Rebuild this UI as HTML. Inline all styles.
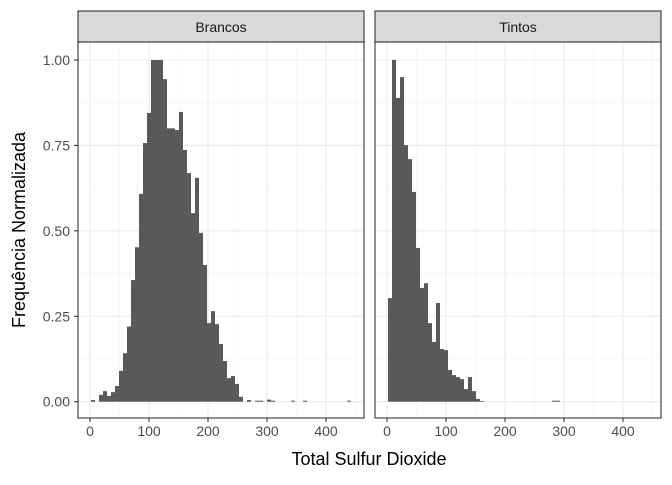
<!DOCTYPE html>
<html><head><meta charset="utf-8"><style>
body{margin:0;background:#fff}
svg text{font-family:"Liberation Sans",sans-serif}
</style></head><body>
<svg id="c" width="672" height="480" xmlns="http://www.w3.org/2000/svg"></svg>
<script>
const panels = ["Brancos","Tintos"];
const binStart = 1.7;
const binWidth = 6.78;
const brancosValues = [0.005,0,0.02,0.031,0.017,0.028,0.046,0.09,0.142,0.22,0.356,0.452,0.608,0.757,0.845,1,1,1,0.944,0.80,0.80,0.795,0.848,0.737,0.669,0.552,0.655,0.494,0.40,0.23,0.265,0.227,0.169,0.119,0.069,0.075,0.052,0.014,0,0.005,0,0.003,0.003,0,0.006,0.003,0,0,0,0,0.003,0,0,0.003,0,0,0,0,0,0,0,0,0,0,0.003];
const tintosValues = [0.303,1.0,0.889,0.95,0.751,0.71,0.614,0.45,0.333,0.347,0.23,0.175,0.289,0.154,0.151,0.093,0.078,0.072,0.066,0.037,0.072,0.031,0.008,0.002,0,0,0,0,0,0,0,0,0,0,0,0,0,0,0,0,0,0.003,0.003];
const yTicks = [0,0.25,0.5,0.75,1.0];
const yTickLabels = ["0.00","0.25","0.50","0.75","1.00"];
const xTicks = [0,100,200,300,400];
const xTickLabels = ["0","100","200","300","400"];

const NS="http://www.w3.org/2000/svg";
const svg=document.getElementById('c');
function mk(t,a,p){const e=document.createElementNS(NS,t);for(const k in a)e.setAttribute(k,a[k]);(p||svg).appendChild(e);return e;}
const plotTop=42,plotBottom=418,panelW=286;
const panelX=[78,375];
function yS(v){return 401.7-v*341.7;}
function xS(p,v){return panelX[p]+12+v*0.59;}
const series=[brancosValues,tintosValues];
panels.forEach((name,p)=>{
  const g=mk('g',{});
  
  
  const x0=panelX[p];
  mk('rect',{x:x0,y:plotTop,width:panelW,height:plotBottom-plotTop,fill:'#fff'},g);
  for(let i=0;i<yTicks.length-1;i++){const y=yS((yTicks[i]+yTicks[i+1])/2);mk('line',{x1:x0,x2:x0+panelW,y1:y,y2:y,stroke:'#f2f2f2','stroke-width':0.55},g);}
  for(let i=0;i<xTicks.length;i++){const x=xS(p,xTicks[i]+50);if(x<x0+panelW)mk('line',{x1:x,x2:x,y1:plotTop,y2:plotBottom,stroke:'#f2f2f2','stroke-width':0.55},g);}
  yTicks.forEach(v=>{const y=yS(v);mk('line',{x1:x0,x2:x0+panelW,y1:y,y2:y,stroke:'#ebebeb','stroke-width':1.1},g);});
  xTicks.forEach(v=>{const x=xS(p,v);mk('line',{x1:x,x2:x,y1:plotTop,y2:plotBottom,stroke:'#ebebeb','stroke-width':1.1},g);});
  series[p].forEach((v,i)=>{
    if(v<=0)return;
    const xa=xS(p,binStart+i*binWidth), xb=xS(p,binStart+(i+1)*binWidth);
    const r=mk('rect',{x:xa,y:yS(v),width:xb-xa,height:yS(0)-yS(v),fill:'#595959'},g);
    
    
  });
  mk('rect',{x:x0,y:plotTop,width:panelW,height:plotBottom-plotTop,fill:'none',stroke:'#333','stroke-width':1.1},g);
  const s=mk('rect',{x:x0,y:11,width:panelW,height:31,fill:'#d9d9d9',stroke:'#333','stroke-width':1.1},g);
  
  
  const st=mk('text',{x:x0+panelW/2,y:32,'text-anchor':'middle','font-size':14,fill:'#1a1a1a'},g);
  st.textContent=name;
  
  
  xTicks.forEach((v,i)=>{const x=xS(p,v);
    mk('line',{x1:x,x2:x,y1:plotBottom,y2:plotBottom+4,stroke:'#333','stroke-width':1.1},g);
    const t=mk('text',{x:x,y:plotBottom+18,'text-anchor':'middle','font-size':14,fill:'#4d4d4d'},g);
    t.textContent=xTickLabels[i];
    
    
  });
});
yTicks.forEach((v,i)=>{const y=yS(v);
  mk('line',{x1:74,x2:78,y1:y,y2:y,stroke:'#333','stroke-width':1.1});
  const t=mk('text',{x:70,y:y+5,'text-anchor':'end','font-size':14,fill:'#4d4d4d'});
  t.textContent=yTickLabels[i];
  
  
});
const xt=mk('text',{x:369,y:465,'text-anchor':'middle','font-size':18,fill:'#000'});
xt.textContent='Total Sulfur Dioxide';


const yt=mk('text',{x:0,y:0,'text-anchor':'middle','font-size':18,fill:'#000',transform:'translate(25,230) rotate(-90)'});
yt.textContent='Frequência Normalizada';


</script>
</body></html>
